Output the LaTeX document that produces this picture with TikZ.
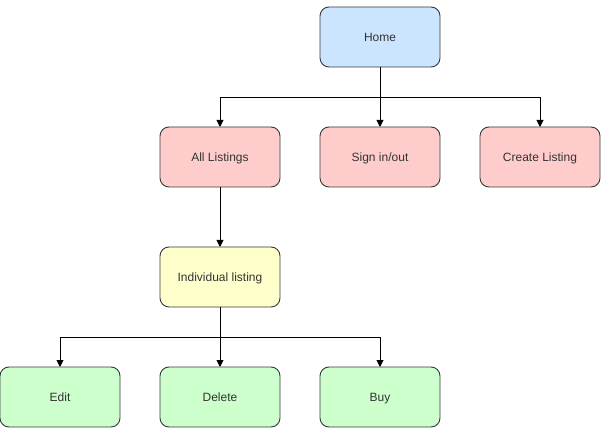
\documentclass[tikz,border=0pt]{standalone}
\usepackage{fontspec}
\setmainfont{Liberation Sans}
\usepackage{xcolor}
\usetikzlibrary{positioning,arrows.meta}

\definecolor{homeblue}{HTML}{CCE5FF}
\definecolor{pagered}{HTML}{FFCCCC}
\definecolor{listyellow}{HTML}{FFFFCC}
\definecolor{actgreen}{HTML}{CCFFCC}
\definecolor{boxline}{HTML}{36393D}
\definecolor{boxtext}{HTML}{333333}

\begin{document}
\begin{tikzpicture}[
    x=1pt, y=1pt,
    page/.style={rectangle, rounded corners=9pt, draw=boxline, line width=0.9pt,
        minimum width=120pt, minimum height=60pt, inner sep=0pt, outer sep=0pt,
        text height=10.5pt, text depth=1.5pt,
        text=boxtext, font=\fontsize{12}{14}\selectfont},
    link/.style={-{Triangle[length=7pt,width=7pt]}, line width=0.9pt, black}
]
    \useasboundingbox (0,0) rectangle (601,428);

    \node[page, fill=homeblue] (home) at (380,391) {Home};
    \node[page, fill=pagered] (sign) [below=60pt of home] {Sign in/out};
    \node[page, fill=pagered] (all) [left=40pt of sign] {All Listings};
    \node[page, fill=pagered] (create) [right=40pt of sign] {Create Listing};
    \node[page, fill=listyellow] (indiv) [below=60pt of all] {Individual listing};
    \node[page, fill=actgreen] (delete) [below=60pt of indiv] {Delete};
    \node[page, fill=actgreen] (edit) [left=40pt of delete] {Edit};
    \node[page, fill=actgreen] (buy) [right=40pt of delete] {Buy};

    % home to the three pages
    \draw[link] (home) -- (sign);
    \draw[link] (home.south) -- ++(0,-30) -| (all.north);
    \draw[link] (home.south) -- ++(0,-30) -| (create.north);

    \draw[link] (all) -- (indiv);

    % listing actions
    \draw[link] (indiv) -- (delete);
    \draw[link] (indiv.south) -- ++(0,-30) -| (edit.north);
    \draw[link] (indiv.south) -- ++(0,-30) -| (buy.north);
\end{tikzpicture}
\end{document}
